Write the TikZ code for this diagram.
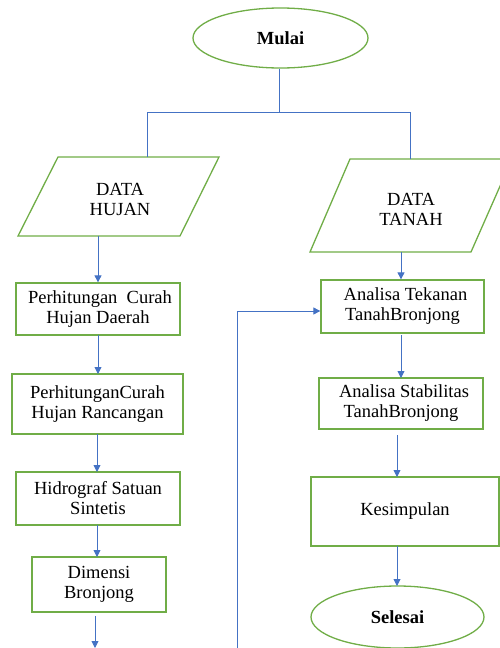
\documentclass[tikz,border=0pt]{standalone}
\usepackage{fontspec}
\setmainfont{Liberation Serif}
\usetikzlibrary{shapes.geometric,arrows.meta}
\definecolor{gbord}{RGB}{112,173,71}
\definecolor{bline}{RGB}{68,114,196}
\tikzset{
  txt/.style={font=\fontsize{18.5}{20}\selectfont, align=center},
  procbox/.style={draw=gbord, line width=1.3pt, rectangle, inner sep=0pt, txt},
  term/.style={draw=gbord, line width=1.3pt, ellipse, inner sep=0pt, font=\fontsize{18.5}{20}\selectfont\bfseries},
  datashape/.style={draw=gbord, line width=1.3pt},
  conn/.style={draw=bline, line width=0.9pt},
  arr/.style={conn, -{Triangle[width=7pt,length=7pt]}}
}
\begin{document}
\begin{tikzpicture}[x=1pt,y=-1pt]
\useasboundingbox (0,0) rectangle (500,648);
\clip (0,0) rectangle (500,648);
% start
\node[term, minimum width=175pt, minimum height=60pt] (mulai) at (280.5,38) {Mulai};
% data shapes
\draw[datashape] (58,157) -- (219,157) -- (180,236) -- (18,236) -- cycle;
\node[txt] (hujan) at (120,199) {DATA\\HUJAN};
\draw[datashape] (350,159) -- (512,159) -- (471,252) -- (310,252) -- cycle;
\coordinate (hujantop) at (147,157);
\coordinate (hujanbot) at (98,236);
\node[txt] (tanah) at (411,209) {DATA\\TANAH};
\coordinate (tanahtop) at (410,159);
\coordinate (tanahbot) at (401,252);
% left column
\node[procbox, minimum width=164pt, minimum height=52pt] (b1) at (98,309) {\hspace*{4pt}Perhitungan\ \ Curah\\Hujan Daerah};
\node[procbox, minimum width=171pt, minimum height=60pt] (b2) at (97.5,404) {PerhitunganCurah\\Hujan Rancangan};
\node[procbox, minimum width=164pt, minimum height=53pt] (b3) at (98,498.5) {Hidrograf Satuan\\Sintetis};
\node[procbox, minimum width=134pt, minimum height=55pt] (b4) at (99,584.5) {Dimensi\\Bronjong};
\coordinate (leftend) at (95,648);
% right column
\node[procbox, minimum width=163pt, minimum height=53pt] (tek) at (402.5,306.5) {\hspace*{6pt}Analisa Tekanan\\TanahBronjong};
\node[procbox, minimum width=164pt, minimum height=51pt] (stab) at (401,403.5) {\hspace*{6pt}Analisa Stabilitas\\TanahBronjong};
\node[procbox, minimum width=188pt, minimum height=69pt] (kes) at (405,511.5) {Kesimpulan};
\node[term, minimum width=173pt, minimum height=62pt] (selesai) at (397.5,617) {Selesai};
% split from start
\coordinate (split) at (279,112);
\coordinate (splitL) at (147,112);
\coordinate (splitR) at (410,112);
\draw[conn] (mulai.south -| split) -- (split);
\draw[conn] (splitL) -- (splitR);
\draw[conn] (splitL) -- (hujantop);
\draw[conn] (splitR) -- (tanahtop);
% left arrows
\draw[arr] (hujanbot) -- (hujanbot |- b1.north);
\draw[arr] (98,335) -- (98,374);
\draw[arr] (97,434) -- (97,472);
\draw[arr] (97,525) -- (97,557);
\draw[arr] (95,616) -- (leftend);
% right arrows
\draw[arr] (tanahbot) -- (tanahbot |- tek.north);
\draw[arr] (401,335) -- (401,378);
\draw[arr] (397,435) -- (397,477);
\draw[arr] (397,546) -- (397,586);
% feedback line
\coordinate (fbbot) at (237,648);
\coordinate (fbtop) at (237,311);
\draw[arr] (fbbot) -- (fbtop) -- (tek.west |- fbtop);
\end{tikzpicture}
\end{document}
